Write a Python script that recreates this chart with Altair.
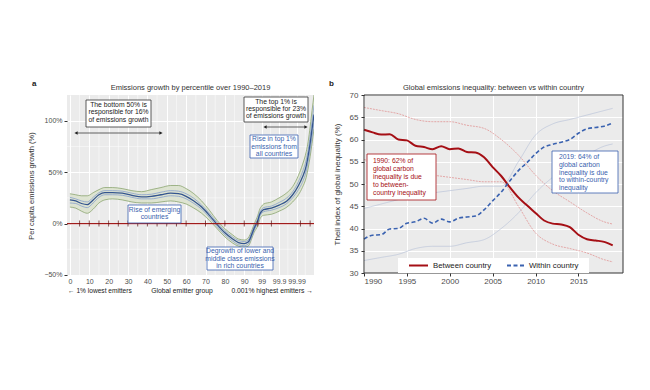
import altair as alt
import pandas as pd

FONT = "Liberation Sans"

# ---------------- Panel a data ----------------
groups = [0, 3, 6, 9, 12, 15, 18, 22, 27, 32, 37, 42, 47, 52, 56, 60, 64, 68, 72, 76,
          80, 84, 87, 90, 92, 94, 95, 97, 98, 99, 100, 104, 108, 112, 115, 118, 120,
          122, 123, 124, 125, 126]
median = [23, 22, 19.5, 18.5, 23, 28, 30, 30, 29.5, 27.5, 26, 26.5, 28, 29.5, 29, 26.5, 22,
          16, 8, -1, -9, -15, -18.5, -19.5, -18, -10, -5, 3, 9, 12, 13.5, 15, 18, 22, 28,
          37, 45, 56, 66, 78, 92, 106]
green_hi = [29, 28, 27, 27, 30, 33, 35, 35, 34, 32, 31, 33, 35, 37, 37, 34, 29, 22, 13, 3,
            -5, -11, -15, -16, -14, -6, -1, 8, 14, 17, 19, 21, 25, 30, 36, 47, 57, 70, 80,
            94, 110, 125]
green_lo = [16, 15, 12, 10, 14, 20, 23, 24, 23, 21, 20, 20, 21, 22, 21, 19, 15, 10, 3, -5,
            -13, -19, -22, -23, -22, -14, -9, -2, 4, 7, 8, 9, 12, 16, 21, 28, 35, 45, 54,
            65, 78, 92]
blue_hi = [25.5, 24, 22, 21, 25.5, 30, 32, 32, 31.5, 29.5, 28, 28.5, 30.5, 32, 31.5, 29,
           24.5, 18, 10, 1, -7, -13, -16.5, -17.5, -16, -8, -3, 5, 11, 14, 15.5, 17, 20.5,
           25, 31, 41, 50, 62, 72, 85, 100, 115]
blue_lo = [20, 19.5, 17, 15.5, 20, 25.5, 28, 28, 27.5, 25.5, 24, 24, 25.5, 27, 26.5, 24,
           19.5, 14, 6, -3, -11, -17, -20.5, -21.5, -20, -12, -7, 1, 7, 10, 11.5, 13, 15.5,
           19.5, 25, 33, 40, 51, 60, 71, 84, 98]
axis_a_values = [0, 10, 20, 30, 40, 50, 60, 70, 80, 90, 99, 108, 117]
axis_a_labels = ["0", "10", "20", "30", "40", "50", "60", "70", "80", "90", "99", "99.9", "99.99"]
minor_a = [5, 15, 25, 35, 45, 55, 65, 75, 85, 94.5, 103.5, 112.5, 121.5]
y_a_values = [-50, 0, 50, 100]
y_a_minor = [-25, 25, 75]
zero_ticks = [5, 10, 15, 20, 25, 30, 35, 40, 45, 50, 55, 60, 70, 80, 90, 97, 104, 119, 124]

# ---------------- Panel b data ----------------
years = list(range(1990, 2020))
between = [62.2, 61.6, 61.1, 61.2, 60.0, 59.8, 58.6, 58.3, 57.8, 58.5, 57.8, 58.0, 57.2,
           57.1, 56.0, 53.8, 51.8, 49.3, 47.0, 45.2, 43.5, 41.8, 41.1, 40.9, 40.3, 38.6,
           37.6, 37.3, 37.0, 36.2]
within = [37.6, 38.5, 38.6, 39.9, 40.0, 41.2, 41.5, 42.3, 41.2, 42.1, 41.5, 42.3, 42.6,
          42.8, 44.2, 46.2, 48.2, 50.7, 53.0, 54.8, 56.8, 58.3, 58.9, 59.4, 60.0, 61.4,
          62.4, 62.7, 63.0, 63.7]
band_years = [1990, 1992, 1994, 1996, 1998, 2000, 2002, 2004, 2006, 2008, 2010, 2012,
              2014, 2016, 2018, 2019]
between_hi = [67.2, 66.5, 65.8, 64.5, 64.0, 64.0, 63.2, 62.5, 60.0, 56.5, 52.0, 48.5,
              46.0, 43.5, 41.5, 41.0]
between_lo = [55.5, 54.5, 53.5, 52.5, 52.0, 51.5, 51.0, 50.5, 50.5, 45.0, 39.0, 36.5,
              35.5, 34.5, 33.0, 32.5]
within_hi = [44.5, 45.5, 46.5, 47.5, 48.0, 48.5, 49.0, 49.5, 49.5, 55.0, 61.0, 63.5,
             64.5, 65.5, 66.5, 67.0]
within_lo = [32.8, 33.5, 34.2, 35.5, 36.0, 36.0, 36.8, 37.5, 40.0, 43.5, 48.0, 51.5,
             54.0, 56.5, 58.5, 59.0]
x_b_values = [1990, 1995, 2000, 2005, 2010, 2015]
y_b_values = [30, 35, 40, 45, 50, 55, 60, 65, 70]

# ---------------- layout ----------------
WA, HA = 247, 181
WB, HB = 259, 178
dummy = pd.DataFrame({"k": [0]})

LABEL_C = "#4d4d4d"
TITLE_C = "#333333"
RED = "#a50f15"
BLUE = "#3a62b0"
BOXBLUE = "#3a5fae"


def box(x1, y1, x2, y2, stroke):
    return alt.Chart(dummy).mark_rect(fill="white", stroke=stroke, strokeWidth=0.8).encode(
        x=alt.value(x1), x2=alt.value(x2), y=alt.value(y1), y2=alt.value(y2))


def label(x, y, txt, color="#222222", align="center", size=6.8, weight="normal",
          baseline="top", lh=7.4):
    return alt.Chart(dummy).mark_text(
        font=FONT, fontSize=size, color=color, align=align, baseline=baseline,
        lineBreak="\n", lineHeight=lh, fontWeight=weight).encode(
        x=alt.value(x), y=alt.value(y), text=alt.value(txt))


def hrule(x1, x2, y, color, width=0.8, dash=None):
    kw = dict(color=color, strokeWidth=width)
    if dash:
        kw["strokeDash"] = dash
    return alt.Chart(dummy).mark_rule(**kw).encode(
        x=alt.value(x1), x2=alt.value(x2), y=alt.value(y))


def head(x, y, shape, color="#222222"):
    return alt.Chart(dummy).mark_point(shape=shape, filled=True, size=14, color=color, opacity=1).encode(
        x=alt.value(x), y=alt.value(y))


# ---------------- Panel a ----------------
xa = alt.Scale(domain=[-1.5, 126], nice=False, zero=False)
ya = alt.Scale(domain=[-51, 125], nice=False, zero=False)
label_expr_a = " : ".join(f"datum.value == {v} ? '{t}'" for v, t in zip(axis_a_values, axis_a_labels)) + " : ''"
axis_xa = alt.Axis(values=axis_a_values, labelExpr=label_expr_a, title=None, grid=True,
                   gridColor="white", gridWidth=1, domain=False, ticks=False, labelFont=FONT,
                   labelFontSize=7, labelColor=LABEL_C, labelPadding=1.5, labelOverlap=False)
axis_ya = alt.Axis(values=y_a_values,
                   labelExpr="(datum.value < 0 ? '−' + (-datum.value) : datum.value) + '%'",
                   title="Per capita emissions growth (%)", grid=True, gridColor="white",
                   gridWidth=1, domain=False, tickColor="#333333", tickSize=3, labelFont=FONT,
                   labelFontSize=7, labelColor=LABEL_C, labelPadding=2, titleFont=FONT,
                   titleFontSize=7.5, titleFontWeight="normal", titleColor=TITLE_C,
                   titlePadding=8)


def xA(f):
    return alt.X(f"{f}:Q", scale=xa, axis=axis_xa)


def yA(f):
    return alt.Y(f"{f}:Q", scale=ya, axis=axis_ya)


dfa = pd.DataFrame({"g": groups, "m": median, "gh": green_hi, "gl": green_lo,
                    "bh": blue_hi, "bl": blue_lo})
base_a = alt.Chart(dfa)

minor_v = alt.Chart(pd.DataFrame({"g": minor_a})).mark_rule(color="white", strokeWidth=0.5).encode(x=xA("g"))
minor_h = alt.Chart(pd.DataFrame({"v": y_a_minor})).mark_rule(color="white", strokeWidth=0.5).encode(y=yA("v"))
band_a = base_a.mark_area(color="#dae2cc", opacity=0.85, interpolate="monotone", clip=True).encode(
    x=xA("g"), y=yA("gl"), y2="gh:Q")
lines_a = []
for f, c, w in [("gh", "#7f9c62", 0.7), ("gl", "#7f9c62", 0.7), ("bh", "#7d97cc", 0.7),
                ("bl", "#7d97cc", 0.7), ("m", "#34558f", 1.3)]:
    lines_a.append(base_a.mark_line(color=c, strokeWidth=w, interpolate="monotone", clip=True).encode(
        x=xA("g"), y=yA(f)))
zero_line = alt.Chart(pd.DataFrame({"v": [0]})).mark_rule(color="#a01c1c", strokeWidth=1.2).encode(y=yA("v"))
zticks = alt.Chart(pd.DataFrame({"g": zero_ticks, "v": [0] * len(zero_ticks)})).mark_tick(
    orient="vertical", size=6, thickness=1, color="#5a1010").encode(x=xA("g"), y=yA("v"))

ann_a = [
    box(19, 5, 84, 32, "#333333"),
    label(51.5, 7, "The bottom 50% is\nresponsible for 16%\nof emissions growth"),
    hrule(9, 94, 38, "#222222", 0.7),
    head(9, 38, "triangle-left"), head(94, 38, "triangle-right"),
    box(177, 2, 241, 27, "#333333"),
    label(209, 3.5, "The top 1% is\nresponsible for 23%\nof  emissions growth"),
    hrule(198, 239, 32, "#222222", 0.7),
    head(198, 32, "triangle-left"), head(239, 32, "triangle-right"),
    box(183, 40, 231, 63, BOXBLUE),
    label(207, 41.3, "Rise in top 1%\nemissions from\nall countries", color=BOXBLUE),
    box(61, 110, 114, 128, BOXBLUE),
    label(87.5, 111.5, "Rise of emerging\ncountries", color=BOXBLUE),
    box(140, 152, 206, 175, BOXBLUE),
    label(173, 153.3, "Degrowth of lower and\nmiddle class emissions\nin rich countries", color=BOXBLUE),
    label(1, 196, "← 1% lowest emitters", align="left", baseline="middle", size=6.6),
    label(115, 196, "Global emitter group", baseline="middle", size=6.8),
    label(246, 196, "0.001% highest emitters →", align="right", baseline="middle", size=6.8),
    label(WA / 2, -7, "Emissions growth by percentile over 1990–2019", color=TITLE_C,
          baseline="middle", size=7.5),
    label(-35, -11, "a", size=8, weight="bold", baseline="middle", align="left"),
]

panel_a = alt.layer(minor_v, minor_h, band_a, *lines_a, zero_line, zticks, *ann_a).properties(
    width=WA, height=HA)

# ---------------- Panel b ----------------
xb = alt.Scale(domain=[1990, 2020.2], nice=False, zero=False)
yb = alt.Scale(domain=[30, 70], nice=False, zero=False)
axis_xb = alt.Axis(values=x_b_values, format="d", title=None, grid=True, gridColor="white",
                   gridWidth=1, domain=False, tickColor="#333333", tickSize=3, labelFont=FONT,
                   labelFontSize=8, labelColor=LABEL_C, labelPadding=1)
axis_yb = alt.Axis(values=y_b_values, title="Theil index of global inequality (%)", grid=True,
                   gridColor="white", gridWidth=1, domain=False, tickColor="#333333",
                   tickSize=3, labelFont=FONT, labelFontSize=8, labelColor=LABEL_C,
                   labelPadding=3, titleFont=FONT, titleFontSize=8, titleFontWeight="normal",
                   titleColor=TITLE_C, titlePadding=8)


def xB(f):
    return alt.X(f"{f}:Q", scale=xb, axis=axis_xb)


def yB(f):
    return alt.Y(f"{f}:Q", scale=yb, axis=axis_yb)


dfb = pd.DataFrame({"year": years, "between": between, "within": within})
dfbb = pd.DataFrame({"year": band_years, "bh": between_hi, "bl": between_lo,
                     "wh": within_hi, "wl": within_lo})

bands_b = []
for f, c, dash in [("bh", "#e08a8a", [2, 1]), ("bl", "#e08a8a", [2, 1]),
                   ("wh", "#b9c3d8", [1, 0]), ("wl", "#b9c3d8", [1, 0])]:
    bands_b.append(alt.Chart(dfbb).mark_line(color=c, strokeWidth=0.7, strokeDash=dash,
                                              interpolate="monotone").encode(x=xB("year"), y=yB(f)))
line_between = alt.Chart(dfb).mark_line(color=RED, strokeWidth=2, interpolate="monotone").encode(
    x=xB("year"), y=yB("between"))
line_within = alt.Chart(dfb).mark_line(color=BLUE, strokeWidth=1.6, strokeDash=[4, 2.5],
                                       interpolate="monotone").encode(x=xB("year"), y=yB("within"))
frame = alt.Chart(dummy).mark_rect(fillOpacity=0, stroke="#333333", strokeWidth=1).encode(
    x=alt.value(0), x2=alt.value(WB), y=alt.value(0), y2=alt.value(HB))

ann_b = [
    box(3, 59, 72, 105, RED),
    label(9, 63, "1990: 62% of\nglobal carbon\ninequality is due\nto between-\ncountry inequality",
          color=RED, align="left", lh=8),
    box(188, 56, 254, 98, BOXBLUE),
    label(195, 59, "2019: 64% of\nglobal carbon\ninequality is due\nto within-country\ninequality",
          color=BOXBLUE, align="left", lh=7.8),
    alt.Chart(dummy).mark_rect(fill="white").encode(
        x=alt.value(34), x2=alt.value(225), y=alt.value(163), y2=alt.value(178)),
    hrule(45, 64, 170.5, RED, 2),
    label(69, 170.5, "Between country", color="#222222", align="left", size=7.8, baseline="middle"),
    hrule(143, 160, 170.5, BLUE, 1.8, [4, 2.5]),
    label(165, 170.5, "Within country", color="#222222", align="left", size=7.8, baseline="middle"),
    label(WB / 2, -7, "Global emissions inequality: between vs within country", color=TITLE_C,
          baseline="middle", size=7.5),
    label(-35, -11, "b", size=8, weight="bold", baseline="middle", align="left"),
]

panel_b = alt.layer(*bands_b, line_between, line_within, frame, *ann_b).properties(
    width=WB, height=HB)

chart = alt.hconcat(panel_a, panel_b, spacing=14).configure_view(
    fill="#ebebeb", strokeWidth=0).properties(
    padding={"left": 19, "top": 72, "right": 5, "bottom": 5})

chart.save("out.html", embed_options={"renderer": "svg", "actions": False})
